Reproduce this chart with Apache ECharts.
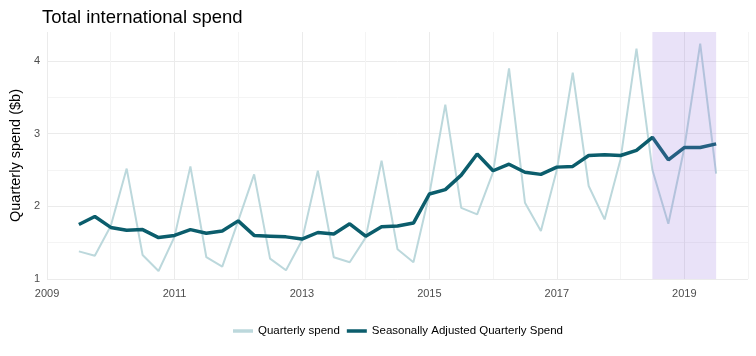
<!DOCTYPE html>
<html>
<head>
<meta charset="utf-8">
<script src="https://cdn.jsdelivr.net/npm/echarts@6/dist/echarts.min.js"></script>
<style>
html,body{margin:0;padding:0;background:#fff;}
#chart{width:756px;height:356px;}
</style>
</head>
<body>
<div id="chart"></div>
<script>
var quarters = [2009.5, 2009.75, 2010, 2010.25, 2010.5, 2010.75, 2011, 2011.25, 2011.5, 2011.75,
  2012, 2012.25, 2012.5, 2012.75, 2013, 2013.25, 2013.5, 2013.75, 2014, 2014.25,
  2014.5, 2014.75, 2015, 2015.25, 2015.5, 2015.75, 2016, 2016.25, 2016.5, 2016.75,
  2017, 2017.25, 2017.5, 2017.75, 2018, 2018.25, 2018.5, 2018.75, 2019, 2019.25, 2019.5];
var quarterlySpend = [1.38, 1.32, 1.73, 2.52, 1.33, 1.11, 1.58, 2.55, 1.30, 1.17,
  1.80, 2.44, 1.28, 1.12, 1.53, 2.49, 1.30, 1.23, 1.57, 2.63,
  1.41, 1.23, 2.17, 3.40, 1.98, 1.89, 2.47, 3.90, 2.05, 1.66,
  2.50, 3.84, 2.28, 1.82, 2.65, 4.17, 2.50, 1.76, 2.80, 4.24, 2.45];
var seasonallyAdjusted = [1.75, 1.86, 1.71, 1.67, 1.68, 1.57, 1.60, 1.68, 1.63, 1.66,
  1.80, 1.60, 1.59, 1.58, 1.55, 1.64, 1.62, 1.76, 1.59, 1.72,
  1.73, 1.77, 2.17, 2.23, 2.43, 2.72, 2.49, 2.58, 2.47, 2.44,
  2.54, 2.55, 2.70, 2.71, 2.70, 2.77, 2.95, 2.64, 2.81, 2.81, 2.86];
var bandRange = [2018.5, 2019.5];
var seriesNames = ['Quarterly spend', 'Seasonally Adjusted Quarterly Spend'];

function pairs(xs, ys) { return xs.map(function (x, i) { return [x, ys[i]]; }); }

var FONT = "'Liberation Sans', Arial, sans-serif";
var chart = echarts.init(document.getElementById('chart'), null, {renderer: 'canvas'});
chart.setOption({
  animation: false,
  backgroundColor: '#ffffff',
  title: {
    text: 'Total international spend',
    left: 37, top: 3,
    textStyle: {fontFamily: FONT, fontSize: 18.5, fontWeight: 'normal', color: '#000000'}
  },
  grid: {left: 42, right: 8, top: 32, bottom: 77, containLabel: false},
  legend: {
    data: [
      {name: seriesNames[0], icon: 'rect', itemStyle: {color: '#bcd8dc'}},
      {name: seriesNames[1], icon: 'rect', itemStyle: {color: '#0b5d6c'}}
    ],
    left: 228, top: 320,
    itemWidth: 20, itemHeight: 3.5, itemGap: 7,
    textStyle: {fontFamily: FONT, fontSize: 11.5, color: '#000000'}
  },
  xAxis: {
    type: 'value', min: 2009, max: 2020, interval: 1,
    axisLine: {show: false}, axisTick: {show: false},
    axisLabel: {
      margin: 9, color: '#4d4d4d', fontFamily: FONT, fontSize: 11,
      formatter: function (v) { return (Math.round(v) % 2 === 1) ? String(v) : ''; }
    },
    splitLine: {show: true, lineStyle: {color: ['#ebebeb', '#f4f4f4'], width: 1}}
  },
  yAxis: {
    type: 'value', min: 1, max: 4.4, interval: 0.5,
    name: 'Quarterly spend ($b)', nameLocation: 'middle', nameGap: 21, nameRotate: 90,
    nameTextStyle: {fontFamily: FONT, fontSize: 14.5, color: '#000000'},
    axisLine: {show: false}, axisTick: {show: false},
    axisLabel: {
      margin: 7, color: '#4d4d4d', fontFamily: FONT, fontSize: 11,
      formatter: function (v) { return Number.isInteger(v) ? String(v) : ''; }
    },
    splitLine: {show: true, showMaxLine: false, lineStyle: {color: ['#ebebeb', '#f4f4f4'], width: 1}}
  },
  series: [
    {
      name: seriesNames[0], type: 'line', data: pairs(quarters, quarterlySpend),
      symbol: 'none', z: 2,
      lineStyle: {color: '#bcd8dc', width: 2},
      itemStyle: {color: '#bcd8dc'}
    },
    {
      name: seriesNames[1], type: 'line', data: pairs(quarters, seasonallyAdjusted),
      symbol: 'none', z: 3,
      lineStyle: {color: '#0b5d6c', width: 3.5},
      itemStyle: {color: '#0b5d6c'}
    },
    {
      name: 'band', type: 'line', data: [], z: 10, silent: true,
      markArea: {
        silent: true, z: 10,
        itemStyle: {color: 'rgba(147,112,219,0.2)'},
        data: [[{xAxis: bandRange[0]}, {xAxis: bandRange[1]}]]
      }
    }
  ]
});
</script>
</body>
</html>
